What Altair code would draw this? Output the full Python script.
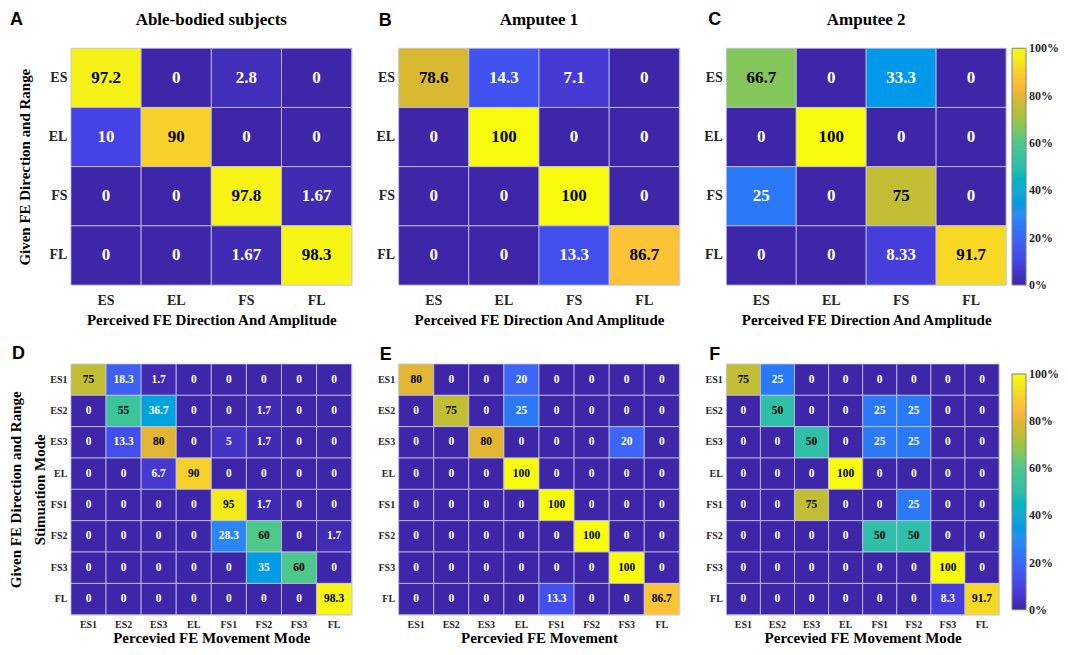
import altair as alt
import pandas as pd

top_cats = ["ES", "EL", "FS", "FL"]
bot_cats = ["ES1", "ES2", "ES3", "EL", "FS1", "FS2", "FS3", "FL"]

a_vals = [[97.2, 0, 2.8, 0],
          [10, 90, 0, 0],
          [0, 0, 97.8, 1.67],
          [0, 0, 1.67, 98.3]]
b_vals = [[78.6, 14.3, 7.1, 0],
          [0, 100, 0, 0],
          [0, 0, 100, 0],
          [0, 0, 13.3, 86.7]]
c_vals = [[66.7, 0, 33.3, 0],
          [0, 100, 0, 0],
          [25, 0, 75, 0],
          [0, 0, 8.33, 91.7]]
d_vals = [[75, 18.3, 1.7, 0, 0, 0, 0, 0],
          [0, 55, 36.7, 0, 0, 1.7, 0, 0],
          [0, 13.3, 80, 0, 5, 1.7, 0, 0],
          [0, 0, 6.7, 90, 0, 0, 0, 0],
          [0, 0, 0, 0, 95, 1.7, 0, 0],
          [0, 0, 0, 0, 28.3, 60, 0, 1.7],
          [0, 0, 0, 0, 0, 35, 60, 0],
          [0, 0, 0, 0, 0, 0, 0, 98.3]]
e_vals = [[80, 0, 0, 20, 0, 0, 0, 0],
          [0, 75, 0, 25, 0, 0, 0, 0],
          [0, 0, 80, 0, 0, 0, 20, 0],
          [0, 0, 0, 100, 0, 0, 0, 0],
          [0, 0, 0, 0, 100, 0, 0, 0],
          [0, 0, 0, 0, 0, 100, 0, 0],
          [0, 0, 0, 0, 0, 0, 100, 0],
          [0, 0, 0, 0, 13.3, 0, 0, 86.7]]
f_vals = [[75, 25, 0, 0, 0, 0, 0, 0],
          [0, 50, 0, 0, 25, 25, 0, 0],
          [0, 0, 50, 0, 25, 25, 0, 0],
          [0, 0, 0, 100, 0, 0, 0, 0],
          [0, 0, 75, 0, 0, 25, 0, 0],
          [0, 0, 0, 0, 50, 50, 0, 0],
          [0, 0, 0, 0, 0, 0, 100, 0],
          [0, 0, 0, 0, 0, 0, 8.3, 91.7]]

# parula-like colour stops
stops = [0, 10, 20, 30, 40, 50, 60, 70, 80, 85, 90, 95, 100]
colors = ["#3e26a8", "#4643e6", "#3d66f8", "#2d8cf2", "#14aad0", "#30bfa8",
          "#4ec78a", "#a0c444", "#e2b632", "#fcbc3a", "#f8d02a", "#f3ea1c", "#f9fb0e"]
# colour-bar tick values (0 % ... 100 %), nudged inside so labels centre on ticks
legend_values = [0.001, 20, 40, 60, 80, 99.999]

SERIF = "Liberation Serif"
SANS = "Liberation Sans"
LAB = "#262626"


def long(mat, cats):
    rows = []
    for i, g in enumerate(cats):
        for j, p in enumerate(cats):
            v = mat[i][j]
            rows.append(dict(given=g, perceived=p, v=v, label=f"{v:g}"))
    return pd.DataFrame(rows)


def panel(mat, cats, letter, lx, ly, w, h, title=None, xtitle=None, ytitle=None,
          legend=None, cell_fs=17, lab_fs=14, title_fs=15, small=False):
    df = long(mat, cats)
    xaxis = dict(labelAngle=0, ticks=False, domain=False, labelFont=SERIF,
                 labelFontSize=lab_fs, labelFontWeight="bold", labelColor=LAB,
                 labelPadding=5 if small else 8,
                 titleFont=SERIF, titleFontSize=title_fs, titleFontWeight="bold",
                 titleColor="black", titlePadding=1 if small else 5)
    yaxis = dict(ticks=False, domain=False, labelFont=SERIF,
                 labelFontSize=lab_fs, labelFontWeight="bold", labelColor=LAB,
                 labelPadding=4,
                 titleFont=SERIF, titleFontSize=title_fs, titleFontWeight="bold",
                 titleColor="black", titlePadding=2 if small else 16,
                 titleLineHeight=24)
    x = alt.X("perceived:N", sort=cats, title=xtitle, axis=alt.Axis(**xaxis))
    y = alt.Y("given:N", sort=cats, title=ytitle, axis=alt.Axis(**yaxis))
    cscale = alt.Scale(domain=stops, range=colors, clamp=True)
    if legend:
        col = alt.Color("v:Q", scale=cscale, legend=legend)
    else:
        col = alt.Color("v:Q", scale=cscale, legend=None)
    base = alt.Chart(df)
    rect = base.mark_rect(stroke="#c4c4e6", strokeWidth=1, strokeOpacity=0.8).encode(
        x=x, y=y, color=col)
    txt = base.mark_text(font=SERIF, fontWeight="bold", fontSize=cell_fs).encode(
        x=x, y=y, text="label:N",
        color=alt.condition("datum.v >= 45", alt.value("black"), alt.value("white")))
    let = alt.Chart(pd.DataFrame({"t": [letter]})).mark_text(
        font=SANS, fontWeight="bold", fontSize=18, align="left", baseline="middle",
        color="black").encode(x=alt.value(lx), y=alt.value(ly), text="t:N")
    layers = [rect, txt, let]
    if title:
        ttl = alt.Chart(pd.DataFrame({"t": [title]})).mark_text(
            font=SERIF, fontWeight="bold", fontSize=17, align="center",
            baseline="middle", color="black").encode(
            x=alt.value(w / 2), y=alt.value(-28), text="t:N")
        layers.append(ttl)
    return alt.layer(*layers).properties(width=w, height=h)


def mk_legend(lx, ly, length):
    return alt.Legend(orient="none", legendX=lx, legendY=ly, direction="vertical",
                      title=None, gradientLength=length, gradientThickness=14,
                      values=legend_values, labelExpr="round(datum.value) + '%'",
                      labelFont=SERIF, labelFontSize=12, labelFontWeight="bold",
                      labelColor=LAB, labelOffset=3, labelOverlap=False,
                      gradientStrokeColor="#808080", gradientStrokeWidth=1)


TH, BH = 237, 251
top_x = "Perceived FE Direction And Amplitude"
pa = panel(a_vals, top_cats, "A", -61, -28, 281, TH, title="Able-bodied subjects",
           xtitle=top_x, ytitle="Given FE Direction and Range")
pb = panel(b_vals, top_cats, "B", -20, -27, 281, TH, title="Amputee 1", xtitle=top_x)
pc = panel(c_vals, top_cats, "C", -18, -28, 280, TH, title="Amputee 2", xtitle=top_x,
           legend=mk_legend(286, 0, TH))

sm = dict(cell_fs=11.5, lab_fs=10, title_fs=15, small=True)
pd_ = panel(d_vals, bot_cats, "D", -59, -10, 281, BH, xtitle="Percevied FE Movement Mode",
            ytitle=["Given FE Direction and Range", "Stimuation Mode"], **sm)
pe = panel(e_vals, bot_cats, "E", -19, -9, 281, BH, xtitle="Percevied FE Movement", **sm)
pf = panel(f_vals, bot_cats, "F", -17, -9, 273, BH, xtitle="Percevied FE Movement Mode",
           legend=mk_legend(286, 10, 236), **sm)

chart = alt.concat(pa, pb, pc, pd_, pe, pf, columns=3,
                   spacing={"row": 79, "column": 47}, bounds="flush").resolve_scale(
    color="independent"
).properties(padding={"left": 0, "top": 2, "right": 0, "bottom": 0}).configure_view(
    stroke="#9a9a9a", strokeWidth=1
).configure(background="white")

chart.save("out.html", embed_options={"renderer": "svg", "actions": False})
